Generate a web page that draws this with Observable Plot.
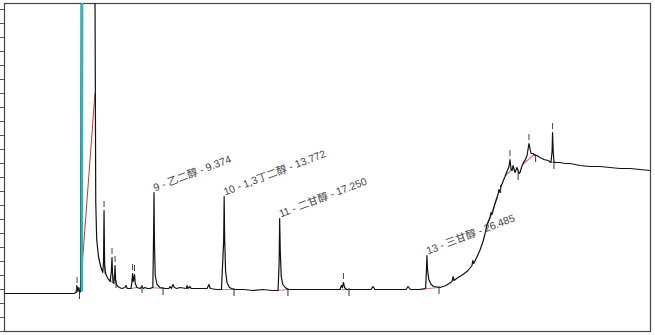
<!DOCTYPE html>
<html><head><meta charset="utf-8">
<script src="https://cdn.jsdelivr.net/npm/d3@7"></script>
<script src="https://cdn.jsdelivr.net/npm/@observablehq/plot@0.6"></script>
<style>html,body{margin:0;padding:0;background:#fff}</style>
</head><body><div id="c"></div>
<script>
// retention time (min), detector signal (arbitrary units)
const trace = [
 [0.0,38],[2.2,38],[4.36,38],[4.48,39],[4.55,45],[4.60,40],[4.66,44],[4.72,39],[4.78,42],[4.82,400],
 [5.66,400],[5.72,130],[5.78,92],[5.90,74],[6.03,65],[6.16,59],[6.21,70],[6.24,121],[6.28,64],[6.36,57],
 [6.48,53],[6.62,50],[6.70,60],[6.74,74],[6.78,55],[6.85,48],[6.90,55],[6.93,66],[6.97,50],[7.05,46],
 [7.20,44],[7.37,43],[7.55,44],[7.62,46],[7.70,43],[7.93,43],[7.99,50],[8.03,58],[8.07,50],[8.10,52],
 [8.15,57],[8.20,48],[8.30,44],[8.50,43],[8.62,45],[8.70,43],[8.81,44],[8.95,43],[9.12,43],[9.30,44],
 [9.35,100],[9.374,139],[9.40,90],[9.45,56],[9.56,47],[9.75,44],[10.06,43],[10.30,43],[10.38,45],[10.46,43],
 [10.56,47],[10.65,44],[10.80,43],[11.00,44],[11.40,43],[11.44,46],[11.50,43],[11.63,45],[11.70,43],[12.2,43],
 [12.7,43],[12.82,47],[12.90,43],[13.3,42],[13.60,42],[13.74,90],[13.772,135],[13.80,95],[13.86,60],[13.95,49],
 [14.10,44],[14.39,42],[15.0,42],[15.6,41],[16.2,42],[16.8,41],[17.15,41],[17.22,70],[17.25,113],[17.29,80],
 [17.35,55],[17.45,47],[17.60,44],[17.77,42],[18.5,42],[19.5,42],[20.5,42],[21.03,42],[21.12,46],[21.18,44],
 [21.25,49],[21.32,44],[21.45,42],[22.3,42],[22.98,42],[23.10,45],[23.22,42],[24.2,42],[25.17,42],[25.30,45],
 [25.45,42],[26.0,42],[26.40,43],[26.45,60],[26.485,76],[26.52,62],[26.60,52],[26.75,47],[26.90,45],[27.3,44],
 [27.68,46],[28.06,50],[28.12,55],[28.18,51],[28.43,54],[28.75,57],[29.06,61],[29.31,66],[29.36,71],[29.42,68],
 [29.60,74],[29.80,81],[30.00,90],[30.13,98],[30.25,107],[30.44,114],[30.50,119],[30.56,117],[30.75,128],[30.94,137],
 [31.00,142],[31.06,139],[31.13,145],[31.25,150],[31.38,155],[31.50,160],[31.63,165],[31.69,172],[31.76,162],[31.82,161],
 [31.88,166],[32.01,159],[32.13,164],[32.26,158],[32.32,159],[32.45,166],[32.57,170],[32.63,171],[32.76,176],[32.88,188],
 [33.01,178],[33.13,178],[33.26,176],[33.39,176],[33.57,174],[33.82,172],[34.08,171],[34.26,169],[34.33,180],[34.36,199],
 [34.40,180],[34.45,169],[34.58,169],[34.83,169],[35.14,168],[35.45,168],[35.77,167],[36.08,166],[36.71,165],[37.34,165],
 [37.96,164],[38.59,163],[39.22,163],[39.84,162],[40.47,161]
];
// solvent peak leading edge and its integration baseline
const solventEdge = [[4.85,41],[4.87,400]];
const solventBase = [[4.75,40],[5.67,238]];
// integration baselines of the other peaks
const peakBases = [
 [[6.55,52],[6.86,48]], [[7.93,43],[8.30,44]], [[9.20,44],[9.94,43]], [[13.60,42],[14.39,42]],
 [[17.10,41],[17.77,42]], [[21.00,42],[21.60,42]], [[26.05,42],[27.20,44]],
 [[30.20,103],[30.90,134]], [[31.40,156],[31.90,163]], [[32.50,167],[33.20,177]], [[34.20,169],[34.50,169]]
];
// peak end markers (retention time)
const endMarks = [4.52, 4.70, 6.30, 6.80, 6.99, 8.62, 9.94, 14.39, 17.77, 21.60, 27.24, 31.10, 32.20, 33.30, 34.45];
// apex markers [time, apex signal]
const apexMarks = [[4.55,45],[6.24,121],[6.74,74],[6.93,66],[8.03,58],[8.15,57],[21.25,49],[31.69,172],[32.88,188],[34.36,199]];
// labelled peaks
const peakNames = ["9 - 乙二醇 - 9.374", "10 - 1,3丁二醇 - 13.772", "11 - 二甘醇 - 17.250", "13 - 三甘醇 - 26.485"];
const peakTimes = [9.374, 13.772, 17.250, 26.485];
const peakHeights = [139, 135, 113, 76];
const yTicks = [0,14,28,42,56,70,84,98,112,126,140,154,168,182,196,210,224,238,252,266,280,294,308,322];

const pts = trace.map(([t, s]) => ({t, s}));
const bases = peakBases.flatMap((seg, i) => seg.map(([t, s]) => ({t, s, id: i})));
const labels = peakNames.map((n, i) => ({label: n, t: peakTimes[i], s: peakHeights[i]}));
const apex = apexMarks.map(([t, s]) => ({t, s1: s + 3, s2: s + 9}));
const ends = endMarks.map(t => {
  let best = pts[0];
  for (const p of pts) if (Math.abs(p.t - t) < Math.abs(best.t - t)) best = p;
  return {t, s1: best.s + 1, s2: best.s - 7};
});

const chart = Plot.plot({
  width: 655, height: 335,
  marginLeft: 4, marginRight: 5, marginTop: 3, marginBottom: 4,
  x: {domain: [0, 40.5], axis: null},
  y: {domain: [0, 328]},
  style: {fontFamily: "'Liberation Sans', Arial, 'Noto Sans CJK SC', sans-serif", background: "#fff"},
  marks: [
    Plot.frame({stroke: "#444", strokeWidth: 1.2}),
    Plot.axisY({ticks: yTicks, tickSize: 4, tickFormat: () => "", label: null, stroke: "#555"}),
    Plot.line(solventBase.map(([t, s]) => ({t, s})), {x: "t", y: "s", stroke: "#c0392b", strokeWidth: 1, clip: true}),
    Plot.line(bases, {x: "t", y: "s", z: "id", stroke: "#d07a8a", strokeWidth: 1.2}),
    Plot.line(pts, {x: "t", y: "s", stroke: "#111", strokeWidth: 1.2, clip: true}),
    Plot.line(solventEdge.map(([t, s]) => ({t, s})), {x: "t", y: "s", stroke: "#2cb8b8", strokeWidth: 2.5, clip: true}),
    Plot.ruleX(ends, {x: "t", y1: "s1", y2: "s2", stroke: "#333", strokeWidth: 1}),
    Plot.ruleX(apex, {x: "t", y1: "s1", y2: "s2", stroke: "#445", strokeWidth: 1}),
    Plot.text(labels, {x: "t", y: "s", text: "label", rotate: -21, textAnchor: "start", lineAnchor: "bottom",
      dx: 1, dy: -1, fontSize: 10.5, fill: "#444"})
  ]
});
document.getElementById("c").appendChild(chart);
</script>
</body></html>
